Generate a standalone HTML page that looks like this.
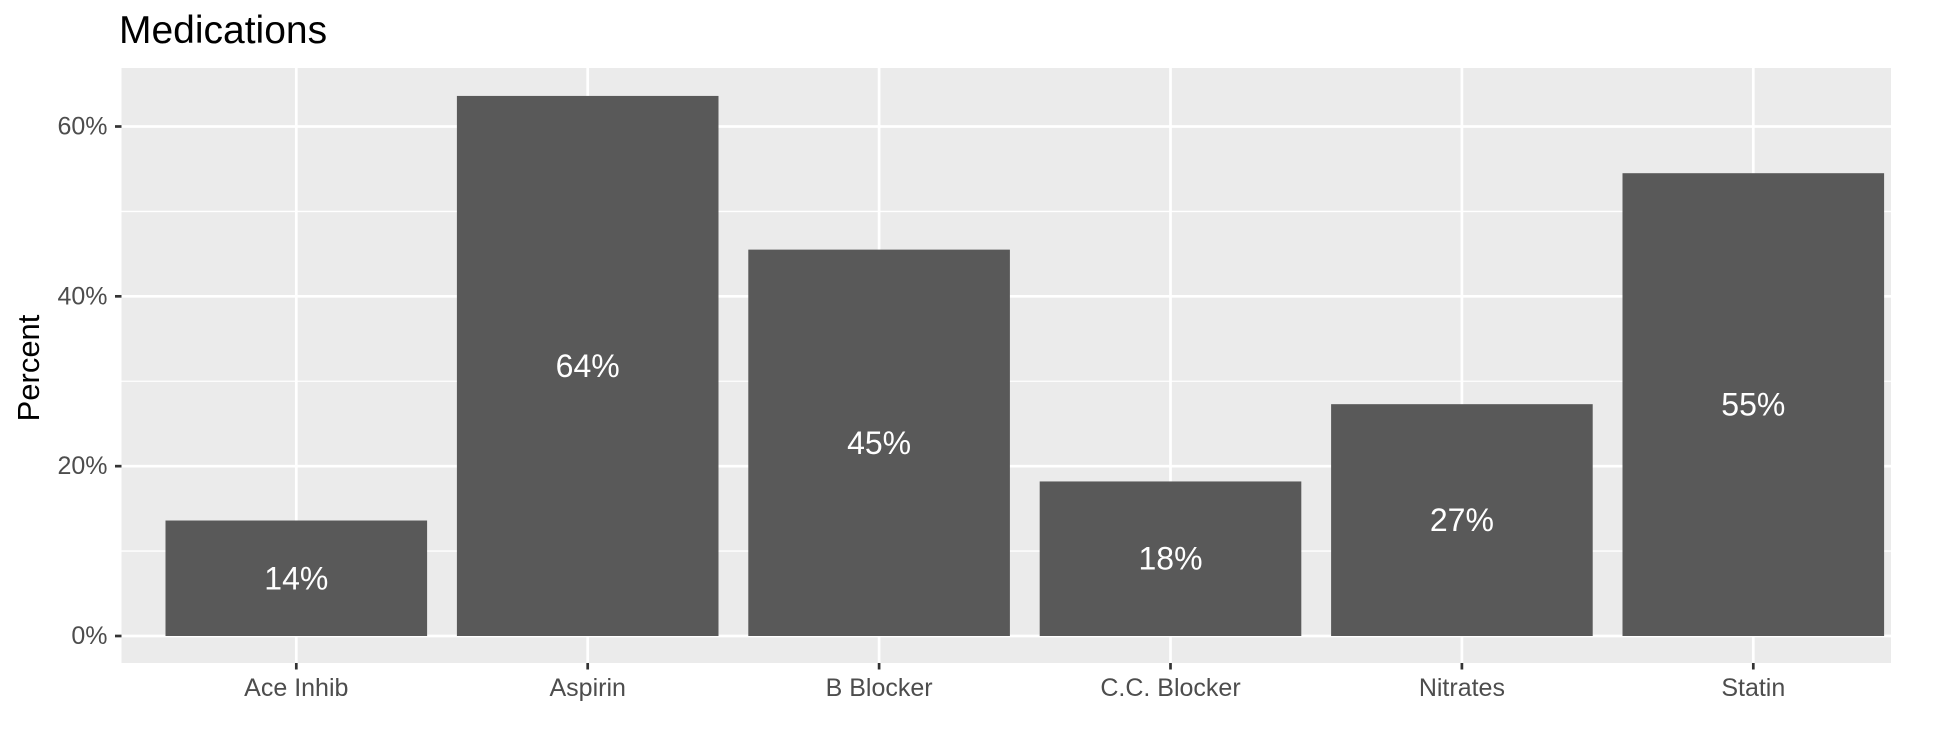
<!DOCTYPE html>
<html><head><meta charset="utf-8"><style>
html,body{margin:0;padding:0;background:#fff;}
svg{display:block;font-family:"Liberation Sans",Arial,sans-serif;}
</style></head><body>
<svg id="chart" width="1944" height="756">
<rect x="0" y="0" width="1944" height="756" fill="#fff"/>
<text x="119" y="43" font-size="39" fill="#000">Medications</text>
<text transform="translate(39,368) rotate(-90)" text-anchor="middle" font-size="31" fill="#000">Percent</text>
<g id="plot"></g>
</svg>
<script>
const categories = ["Ace Inhib","Aspirin","B Blocker","C.C. Blocker","Nitrates","Statin"];
const values = [13.6,63.6,45.5,18.2,27.3,54.5];
const barLabels = ["14%","64%","45%","18%","27%","55%"];
const yTicks = [0,20,40,60];
const yTickLabels = ["0%","20%","40%","60%"];

const NS="http://www.w3.org/2000/svg";
const g=document.getElementById('plot');
const pL=121.5,pR=1891,pT=68,pB=663;
const y0=636, yPer=(636-126.5)/60;
function yScale(v){return y0-v*yPer;}
function xScale(i){return 296.3+i*291.4;}
const bw=261.6;
function el(t,a){const e=document.createElementNS(NS,t);for(const k in a)e.setAttribute(k,a[k]);g.appendChild(e);return e;}

const bg=el('rect',{x:pL,y:pT,width:pR-pL,height:pB-pT,fill:'#ebebeb'});


for(let i=0;i<yTicks.length-1;i++){
  const m=(yTicks[i]+yTicks[i+1])/2;
  const l=el('line',{x1:pL,x2:pR,y1:yScale(m),y2:yScale(m),stroke:'#fff','stroke-width':1.3});
  
  
}
yTicks.forEach((t,i)=>{
  const y=yScale(t);
  const l=el('line',{x1:pL,x2:pR,y1:y,y2:y,stroke:'#fff','stroke-width':2.7});
  
  
  const tk=el('line',{x1:pL-6.5,x2:pL,y1:y,y2:y,stroke:'#333','stroke-width':2.7});
  
  
  const tx=el('text',{x:pL-14,y:y+8,'text-anchor':'end','font-size':25,fill:'#4d4d4d'});
  tx.textContent=yTickLabels[i];
  
  
});
categories.forEach((c,i)=>{
  const x=xScale(i);
  const l=el('line',{x1:x,x2:x,y1:pT,y2:pB,stroke:'#fff','stroke-width':2.7});
  
  
});
categories.forEach((c,i)=>{
  const x=xScale(i);
  const b=el('rect',{x:x-bw/2,y:yScale(values[i]),width:bw,height:y0-yScale(values[i]),fill:'#595959'});
  
  
  const t=el('text',{x:x,y:yScale(values[i]/2)+11,'text-anchor':'middle','font-size':32,fill:'#fff'});
  t.textContent=barLabels[i];
  
  
  const tk=el('line',{x1:x,x2:x,y1:pB,y2:pB+6.5,stroke:'#333','stroke-width':2.7});
  
  
  const xl=el('text',{x:x,y:696,'text-anchor':'middle','font-size':25,fill:'#4d4d4d'});
  xl.textContent=c;
  
  
});
</script>
</body></html>
